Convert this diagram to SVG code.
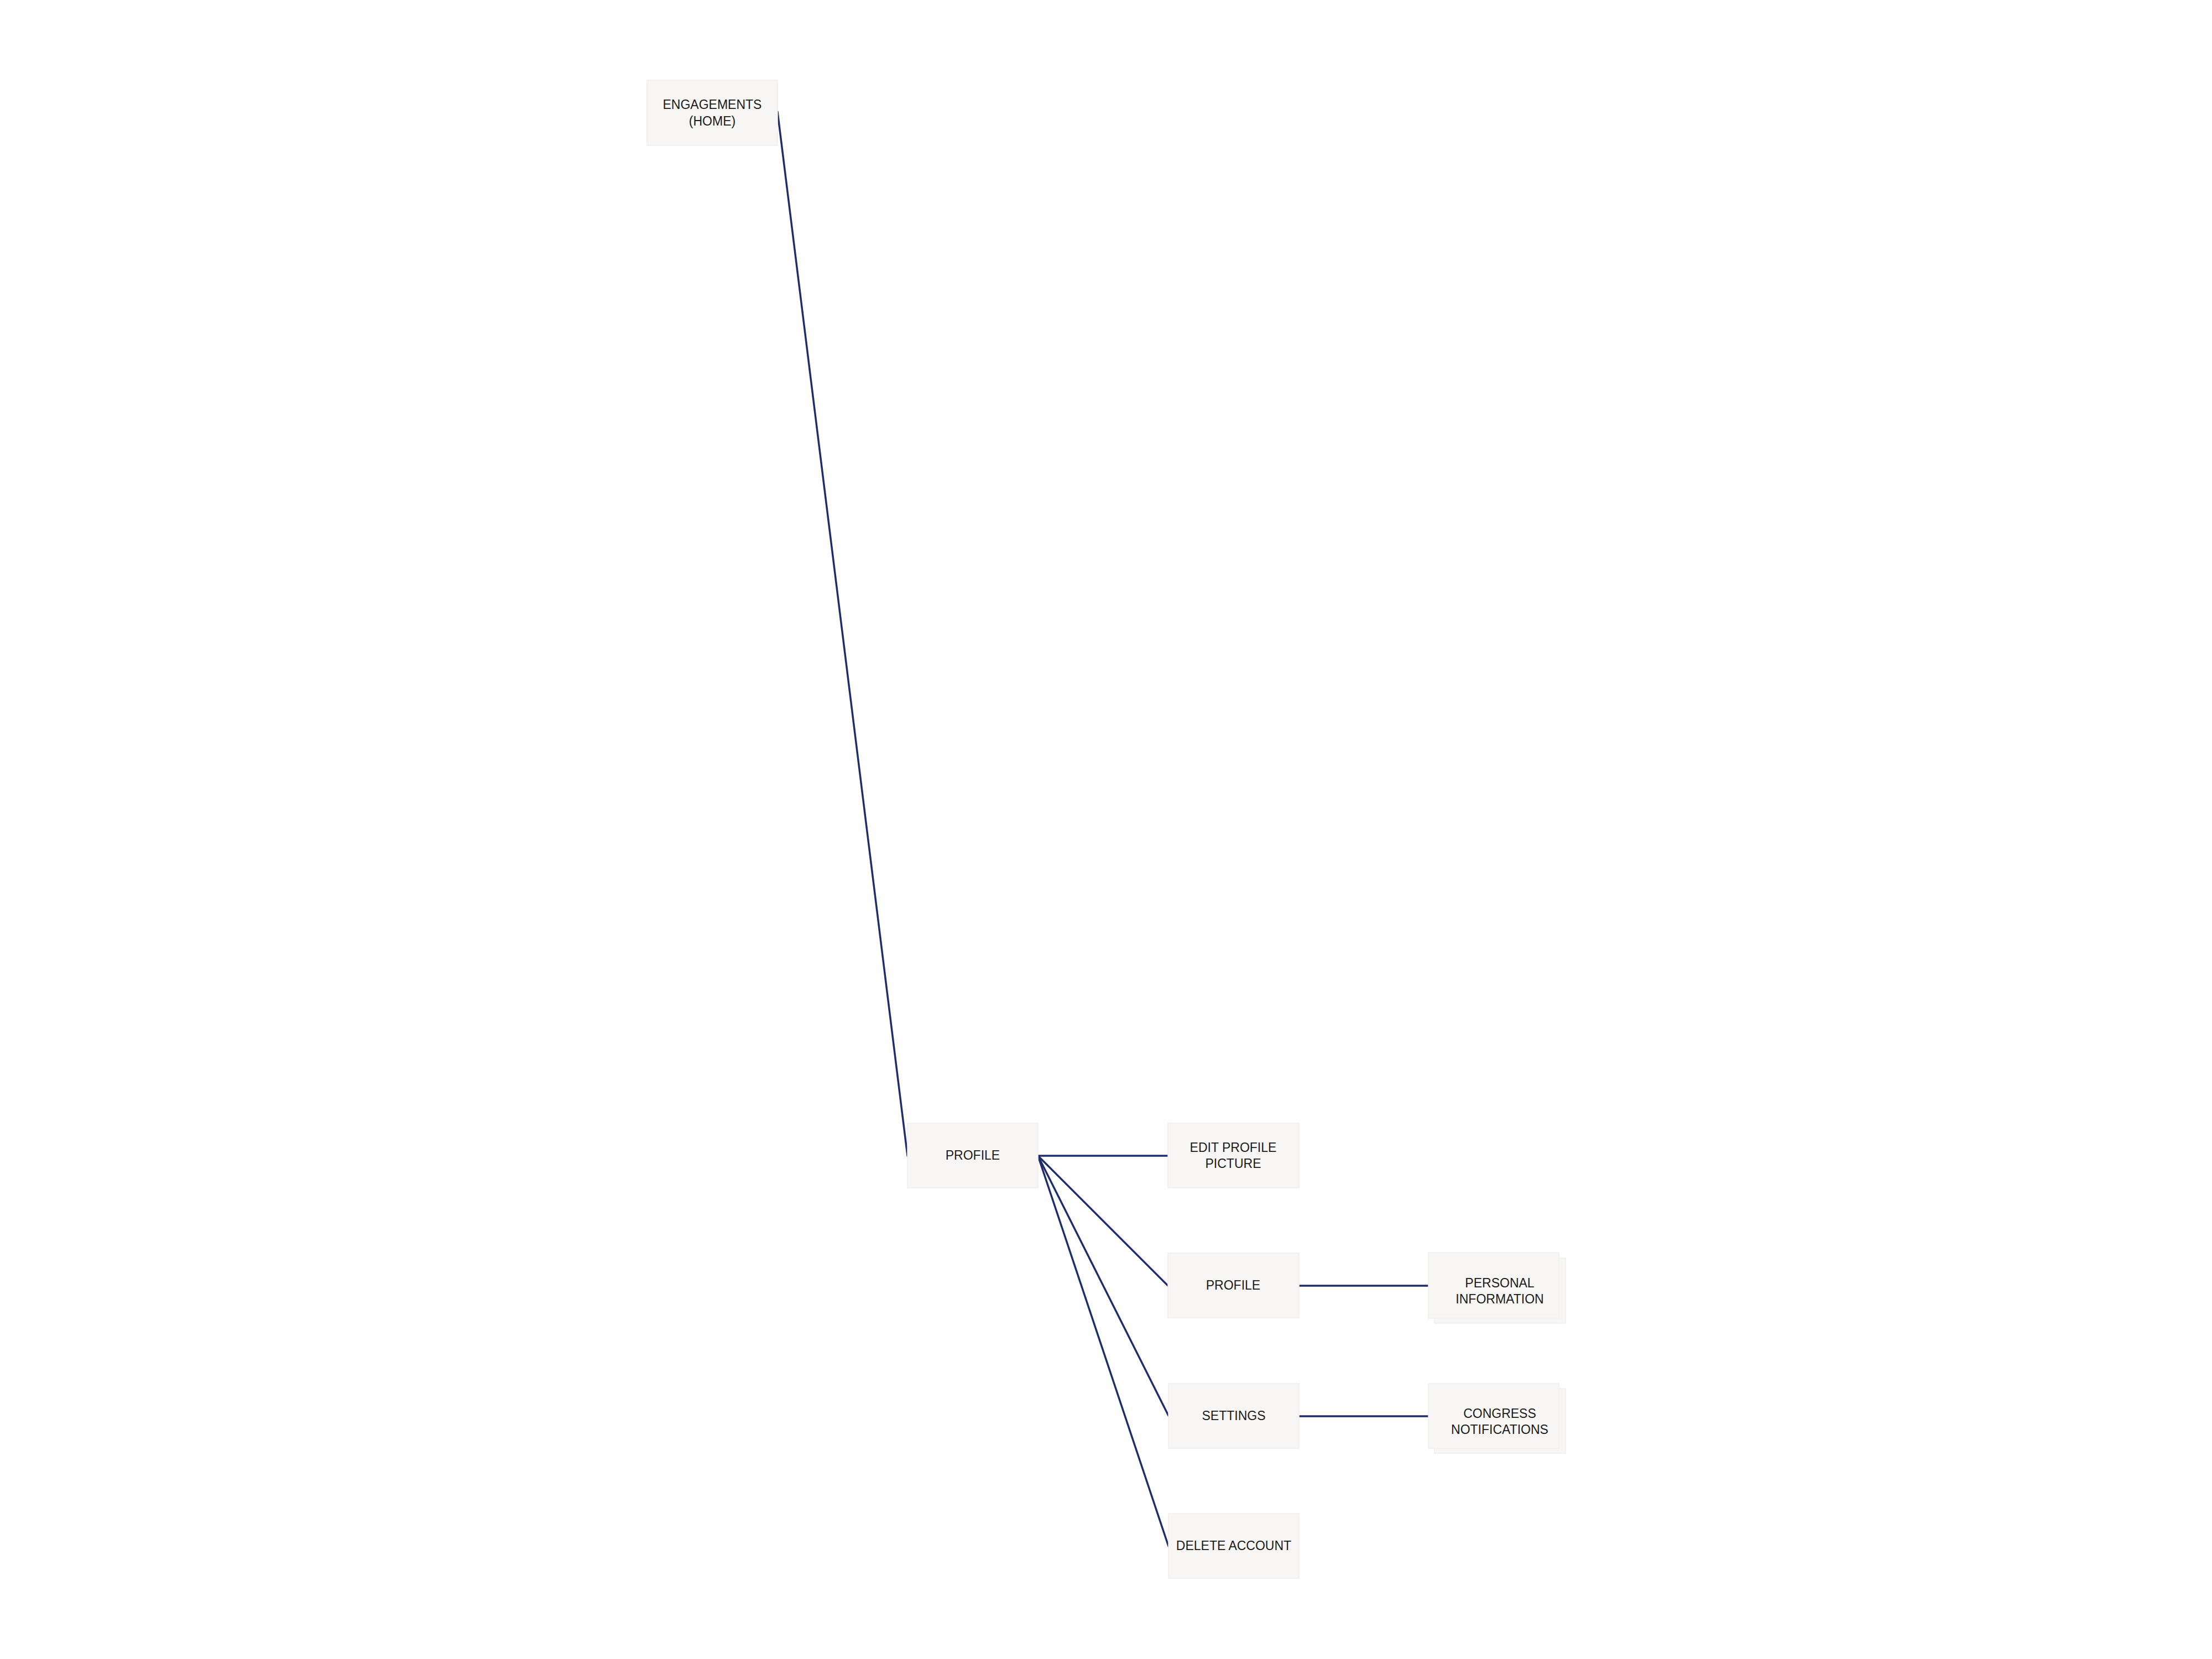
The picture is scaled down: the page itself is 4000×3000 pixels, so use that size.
<svg xmlns="http://www.w3.org/2000/svg" width="4000" height="3000" viewBox="0 0 4000 3000">
<style>
.box{fill:#f7f6f4;stroke:#eeeeec;stroke-width:1.5}
.lbl{font-family:"Liberation Sans",Arial,sans-serif;font-size:23px;fill:#1a1a1a;text-anchor:middle}
.conn{stroke:#1f2d6b;stroke-width:3.5;fill:none;stroke-linecap:round}
</style>
<rect width="4000" height="3000" fill="#ffffff"/>
<g id="connectors">
<line class="conn" x1="1406" y1="202" x2="1641" y2="2090"/>
<line class="conn" x1="1877" y1="2090" x2="2112" y2="2090"/>
<line class="conn" x1="1877" y1="2090" x2="2112" y2="2325"/>
<line class="conn" x1="1877" y1="2090" x2="2113" y2="2560"/>
<line class="conn" x1="1877" y1="2090" x2="2113" y2="2796"/>
<line class="conn" x1="2349" y1="2325" x2="2583" y2="2325"/>
<line class="conn" x1="2349" y1="2561" x2="2583" y2="2561"/>
</g>
<g id="engagements">
<rect class="box" x="1170" y="145" width="236" height="118"/>
<text class="lbl" x="1288" y="197">ENGAGEMENTS</text>
<text class="lbl" x="1288" y="227">(HOME)</text>
</g>
<g id="profile">
<rect class="box" x="1641" y="2031" width="236" height="117"/>
<text class="lbl" x="1759" y="2097">PROFILE</text>
</g>
<g id="edit-profile-picture">
<rect class="box" x="2112" y="2031" width="237" height="117"/>
<text class="lbl" x="2230" y="2083">EDIT PROFILE</text>
<text class="lbl" x="2230" y="2112">PICTURE</text>
</g>
<g id="profile-2">
<rect class="box" x="2112" y="2266" width="237" height="117"/>
<text class="lbl" x="2230" y="2332">PROFILE</text>
</g>
<g id="settings">
<rect class="box" x="2113" y="2502" width="236" height="117"/>
<text class="lbl" x="2231" y="2568">SETTINGS</text>
</g>
<g id="delete-account">
<rect class="box" x="2113" y="2737" width="236" height="117"/>
<text class="lbl" x="2231" y="2803">DELETE ACCOUNT</text>
</g>
<g id="personal-information">
<rect class="box" x="2594" y="2275" width="237" height="118"/>
<rect class="box" x="2583" y="2265" width="236" height="119"/>
<text class="lbl" x="2712" y="2328">PERSONAL</text>
<text class="lbl" x="2712" y="2357">INFORMATION</text>
</g>
<g id="congress-notifications">
<rect class="box" x="2594" y="2511" width="237" height="117"/>
<rect class="box" x="2583" y="2502" width="236" height="117"/>
<text class="lbl" x="2712" y="2564">CONGRESS</text>
<text class="lbl" x="2712" y="2593">NOTIFICATIONS</text>
</g>
</svg>
